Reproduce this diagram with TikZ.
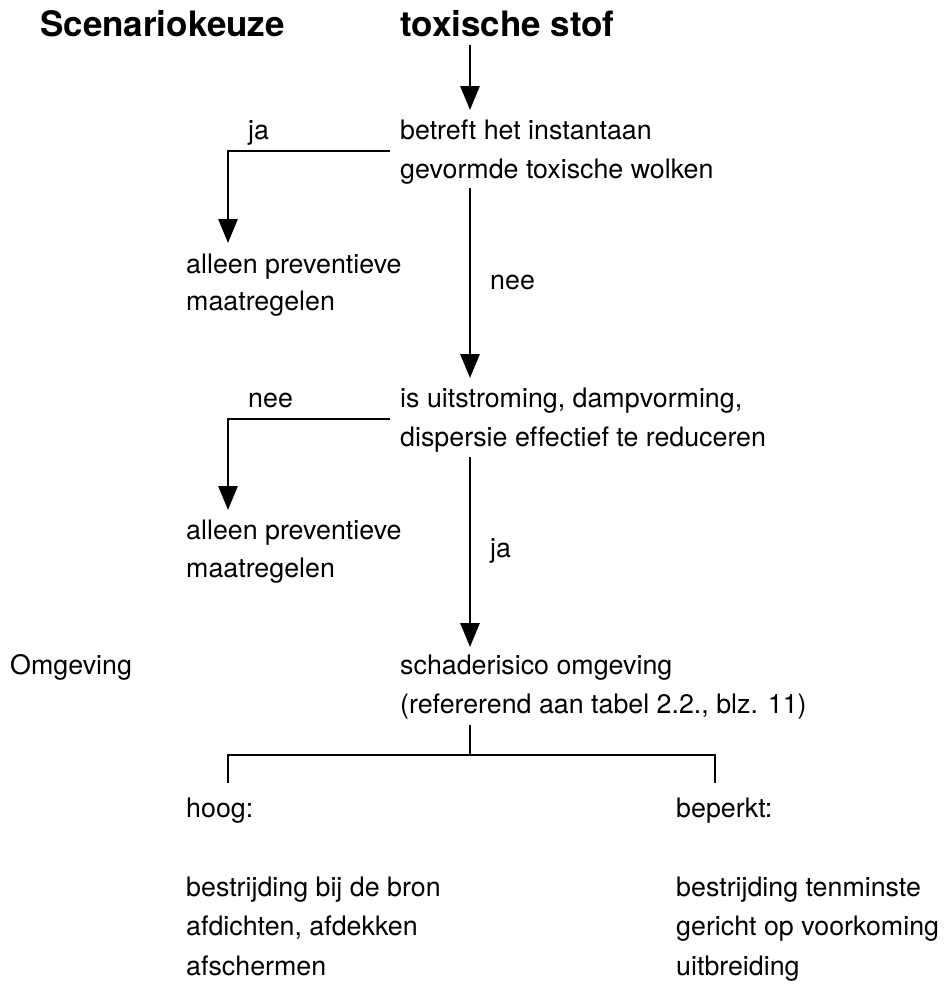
\documentclass[tikz,border=0pt]{standalone}
\usepackage{fontspec}
\setmainfont[Ligatures=NoCommon]{TeX Gyre Heros}
\usetikzlibrary{arrows.meta}
\begin{document}
\begin{tikzpicture}[x=1pt,y=-1pt,
  txt/.style={anchor=base west,inner sep=0pt,font=\fontsize{26.8}{39}\selectfont},
  ttl/.style={anchor=base west,inner sep=0pt,font=\fontsize{35}{40}\selectfont\bfseries},
  conn/.style={line width=2.9pt},
  arr/.style={conn,-{Triangle[width=19pt,length=24pt]}}]
\useasboundingbox (0,0) rectangle (946,990);
% titles
\node[ttl] (scen) at (40,37) {Scenariokeuze};
\node[ttl] (tox) at (400,37) {toxische stof};
% question 1
\node[txt] (q1a) at (400,139) {betreft het instantaan};
\node[txt] (q1b) at (400,178) {gevormde toxische wolken};
\node[txt] (ja1) at (248,139) {ja};
\node[txt] (p1a) at (186,273) {alleen preventieve};
\node[txt] (p1b) at (186,310) {maatregelen};
\node[txt] (nee1) at (490,289) {nee};
% question 2
\node[txt] (q2a) at (400,407) {is uitstroming, dampvorming,};
\node[txt] (q2b) at (400,446) {dispersie effectief te reduceren};
\node[txt] (nee2) at (248,407) {nee};
\node[txt] (p2a) at (186,539) {alleen preventieve};
\node[txt] (p2b) at (186,577) {maatregelen};
\node[txt] (ja2) at (490,557) {ja};
% risk
\node[txt] (omg) at (10,674) {Omgeving};
\node[txt] (r1) at (400,674) {schaderisico omgeving};
\node[txt] (r2) at (400,713) {(refererend aan tabel 2.2., blz. 11)};
\node[txt] (hoog) at (186,817) {hoog:};
\node[txt] (bep) at (676,817) {beperkt:};
\node[txt] (h1) at (186,896) {bestrijding bij de bron};
\node[txt] (h2) at (186,935) {afdichten, afdekken};
\node[txt] (h3) at (186,975) {afschermen};
\node[txt] (b1) at (676,896) {bestrijding tenminste};
\node[txt] (b2) at (676,935) {gericht op voorkoming};
\node[txt] (b3) at (676,975) {uitbreiding};
% connectors
\coordinate (a1s) at (470,45);
\coordinate (a1e) at (470,110);
\draw[arr] (a1s) -- (a1e);
\coordinate (b1s) at (390,151);
\coordinate (b1e) at (228,243);
\draw[arr] (b1s) -| (b1e);
\coordinate (a2s) at (470,188);
\coordinate (a2e) at (470,378);
\draw[arr] (a2s) -- (a2e);
\coordinate (b2s) at (390,419);
\coordinate (b2e) at (228,510);
\draw[arr] (b2s) -| (b2e);
\coordinate (a3s) at (470,457);
\coordinate (a3e) at (470,647);
\draw[arr] (a3s) -- (a3e);
\coordinate (ts) at (470,725);
\coordinate (tm) at (470,755);
\coordinate (tl) at (228,783);
\coordinate (tr) at (715,783);
\draw[conn] (ts) -- (tm);
\draw[conn,line join=miter] (tl) |- (tm) -| (tr);
\end{tikzpicture}
\end{document}
